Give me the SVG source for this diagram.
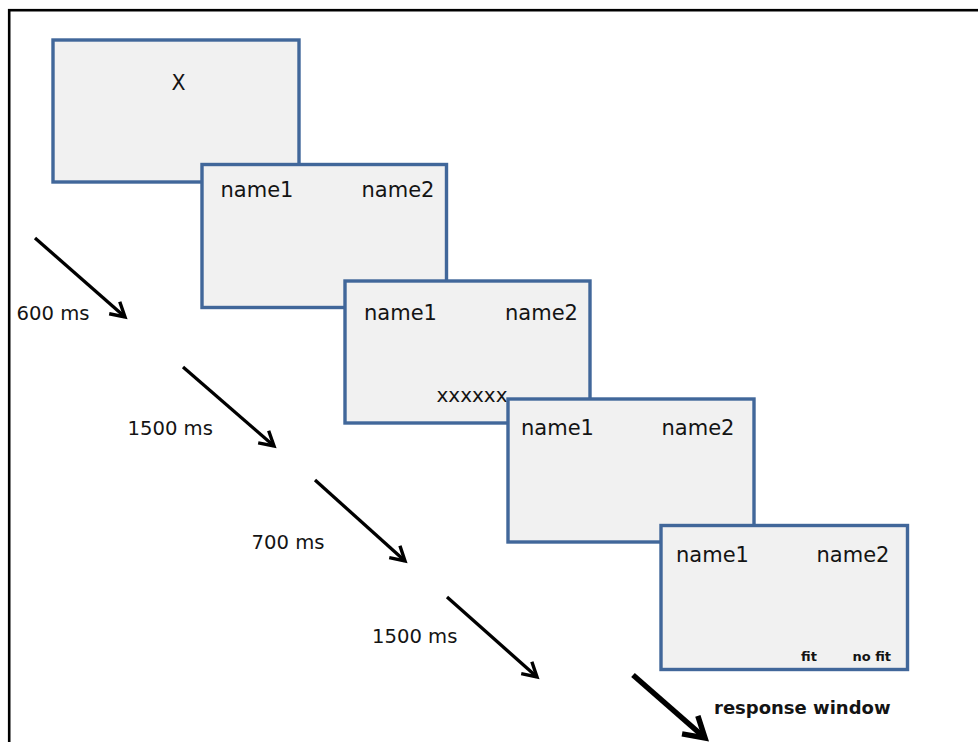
<svg xmlns="http://www.w3.org/2000/svg" width="978" height="742" viewBox="0 0 978 742">
<defs>
<style>
.box{fill:#f1f1f1;stroke:#41679a;stroke-width:3.4}
.t{font-family:"DejaVu Sans",Verdana,sans-serif;fill:#141414}
.nm{font-size:21px}
.lb{font-size:19.6px}
.sm{font-size:13px;font-weight:bold}
.arr{stroke:#000;stroke-width:3.3;fill:none;marker-end:url(#ah)}
.arrb{stroke:#000;stroke-width:5.5;fill:none;marker-end:url(#ahb)}
</style>
<marker id="ah" markerUnits="userSpaceOnUse" markerWidth="30" markerHeight="30" viewBox="-20 -15 30 30" refX="0" refY="0" orient="auto">
<path d="M-14 -8 L0 0 L-14 8" fill="none" stroke="#000" stroke-width="3.4" stroke-linejoin="miter"/>
</marker>
<marker id="ahb" markerUnits="userSpaceOnUse" markerWidth="40" markerHeight="40" viewBox="-30 -20 40 40" refX="0" refY="0" orient="auto">
<path d="M-20 -12 L0 0 L-20 12" fill="none" stroke="#000" stroke-width="5.5" stroke-linejoin="miter"/>
</marker>
</defs>
<rect width="978" height="742" fill="#fff"/>
<rect x="9.2" y="10.2" width="1000" height="1000" fill="none" stroke="#000" stroke-width="2.6"/>
<g id="connectors">
<line class="arr" x1="35" y1="238" x2="125" y2="317"/>
<line class="arr" x1="183" y1="367" x2="274" y2="446"/>
<line class="arr" x1="315" y1="480" x2="405" y2="561"/>
<line class="arr" x1="447" y1="597" x2="537" y2="677"/>
<line class="arrb" x1="633" y1="675" x2="705" y2="738"/>
</g>
<g id="label-600">
<text class="t lb" x="16.5" y="320">600 ms</text>
</g>
<g id="label-1500a">
<text class="t lb" x="127.5" y="435">1500 ms</text>
</g>
<g id="label-700">
<text class="t lb" x="251.5" y="549">700 ms</text>
</g>
<g id="label-1500b">
<text class="t lb" x="372" y="642.5">1500 ms</text>
</g>
<g id="label-response">
<text class="t" x="714" y="713.5" style="font-size:18px;font-weight:bold">response window</text>
</g>
<g id="screen1">
<rect class="box" x="53" y="40" width="246" height="142"/>
<text class="t" x="178.5" y="90" text-anchor="middle" style="font-size:20.5px">X</text>
</g>
<g id="screen2">
<rect class="box" x="202" y="164.5" width="244.5" height="143"/>
<text class="t nm" x="220.5" y="196.5">name1</text>
<text class="t nm" x="361.5" y="196.5">name2</text>
</g>
<g id="screen3">
<rect class="box" x="345" y="281" width="245" height="142"/>
<text class="t nm" x="364" y="320">name1</text>
<text class="t nm" x="505" y="320">name2</text>
<text class="t" x="436.5" y="401.5" style="font-size:20px">xxxxxx</text>
</g>
<g id="screen4">
<rect class="box" x="508" y="399" width="246" height="143"/>
<text class="t nm" x="521" y="434.5">name1</text>
<text class="t nm" x="661.5" y="434.5">name2</text>
</g>
<g id="screen5">
<rect class="box" x="661" y="525.5" width="246.5" height="144"/>
<text class="t nm" x="676" y="561.5">name1</text>
<text class="t nm" x="816.5" y="561.5">name2</text>
<text class="t sm" x="801" y="661">fit</text>
<text class="t sm" x="852.5" y="661">no fit</text>
</g>
</svg>
